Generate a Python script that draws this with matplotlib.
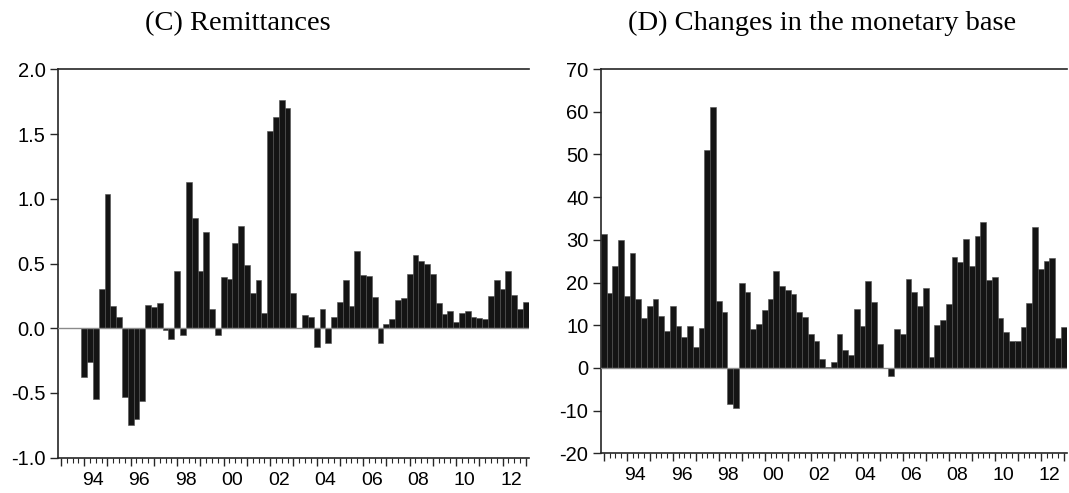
import matplotlib

matplotlib.use("Agg")
import matplotlib.pyplot as plt
import numpy as np

plt.rcParams["font.family"] = ["Liberation Sans", "DejaVu Sans"]
plt.rcParams["axes.unicode_minus"] = False

# Quarterly sample 1993Q1 .. 2013Q1 (81 observations)
START_YEAR = 1993
N_OBS = 81
LABEL_YEARS = [1994, 1996, 1998, 2000, 2002, 2004, 2006, 2008, 2010, 2012]

# (C) Remittances -- no data for 1993
remittances = [
    None, None, None, None,
    -0.38, -0.26, -0.55, 0.30, 1.04, 0.17, 0.09, -0.53, -0.745, -0.70,
    -0.56, 0.18, 0.165, 0.195, -0.01, -0.08, 0.44, -0.055, 1.13, 0.85,
    0.44, 0.74, 0.145, -0.055, 0.395, 0.38, 0.66, 0.79, 0.49, 0.27,
    0.37, 0.12, 1.525, 1.63, 1.76, 1.70, 0.275, 0.0, 0.10, 0.09,
    -0.145, 0.15, -0.115, 0.09, 0.20, 0.375, 0.17, 0.595, 0.41, 0.405,
    0.245, -0.115, 0.035, 0.07, 0.22, 0.23, 0.42, 0.565, 0.52, 0.495,
    0.42, 0.195, 0.11, 0.135, 0.045, 0.12, 0.135, 0.09, 0.08, 0.07,
    0.25, 0.375, 0.30, 0.44, 0.255, 0.15, 0.20,
]

# (D) Changes in the monetary base
monetary_base = [
    31.4, 17.6, 23.8, 30.0, 16.9, 27.0, 16.2, 11.7, 14.5, 16.2,
    12.1, 8.6, 14.6, 9.9, 7.2, 9.9, 4.9, 9.4, 51.1, 61.0,
    15.6, 13.0, -8.5, -9.3, 19.9, 17.8, 9.2, 10.3, 13.5, 16.2,
    22.6, 19.2, 18.2, 17.4, 13.2, 12.0, 7.9, 6.2, 2.0, 0.3,
    1.3, 8.0, 4.2, 3.0, 13.8, 9.7, 20.3, 15.4, 5.5, 0.0,
    -2.0, 9.1, 8.0, 20.8, 17.7, 14.4, 18.6, 2.5, 10.1, 11.3,
    15.0, 26.0, 24.7, 30.2, 23.8, 30.8, 34.2, 20.7, 21.2, 11.7,
    8.5, 6.4, 6.2, 9.5, 15.3, 32.9, 23.2, 25.1, 25.7, 7.0,
    9.6,
]

left_yticks = [-1.0, -0.5, 0.0, 0.5, 1.0, 1.5, 2.0]
right_yticks = [-20, -10, 0, 10, 20, 30, 40, 50, 60, 70]

FRAME = "#262626"
BAR = "#141414"


def draw_panel(ax, values, yticks, fmt):
    x = np.arange(N_OBS)
    y = np.array([np.nan if v is None else v for v in values], dtype=float)
    ax.bar(x, np.nan_to_num(y), width=1.0, color=BAR, edgecolor="#505050",
           linewidth=0.4, zorder=2)
    ax.axhline(0, color="#8a8a8a", linewidth=1.0, zorder=3)

    ax.set_xlim(-0.5, N_OBS - 0.5)
    ax.set_ylim(yticks[0], yticks[-1])
    ax.set_yticks(yticks)
    ax.set_yticklabels([fmt.format(t) for t in yticks])

    # quarter ticks (minor) and year ticks (major), labels every two years
    ax.set_xticks(np.arange(0, N_OBS, 4))
    ax.set_xticklabels([])
    ax.set_xticks(x, minor=True)
    ax.tick_params(axis="x", which="major", length=6, width=1.0, color=FRAME)
    ax.tick_params(axis="x", which="minor", length=3.3, width=0.8, color=FRAME)
    ax.tick_params(axis="y", length=6, width=1.0, color=FRAME, pad=3,
                   labelsize=14.5)

    sec = ax.secondary_xaxis("bottom")
    pos = [(yr - START_YEAR) * 4 + 1.5 for yr in LABEL_YEARS]
    sec.set_xticks(pos)
    sec.set_xticklabels([f"{yr % 100:02d}" for yr in LABEL_YEARS])
    sec.tick_params(length=0, pad=10, labelsize=14)
    sec.spines["bottom"].set_visible(False)

    ax.spines["right"].set_visible(False)
    for side in ("left", "top", "bottom"):
        ax.spines[side].set_color(FRAME)
        ax.spines[side].set_linewidth(1.2)


fig = plt.figure(figsize=(10.69, 4.93), dpi=100)
ax_c = fig.add_axes([0.0543, 0.0716, 0.4403, 0.7878])
ax_d = fig.add_axes([0.5622, 0.0805, 0.4356, 0.7795])

draw_panel(ax_c, remittances, left_yticks, "{:.1f}")
draw_panel(ax_d, monetary_base, right_yticks, "{:d}")

title_font = dict(family=["Liberation Serif", "DejaVu Serif"], fontsize=20.5,
                  ha="center", va="center")
fig.text(0.2226, 0.953, "(C) Remittances", **title_font)
fig.text(0.769, 0.953, "(D) Changes in the monetary base", **title_font)

fig.savefig("out.png", dpi=100)
